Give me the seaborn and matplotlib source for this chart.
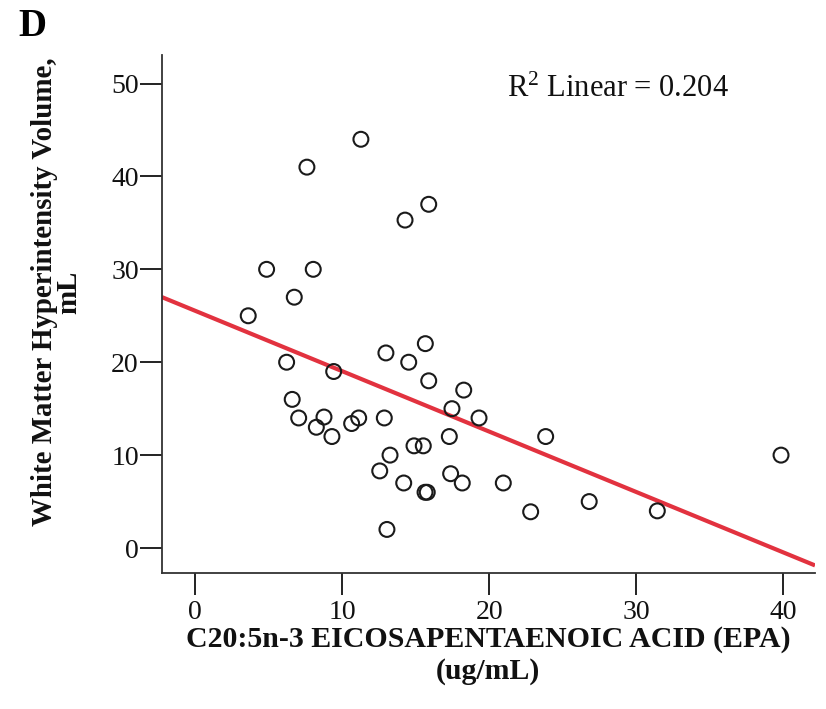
import matplotlib
matplotlib.use("Agg")
import matplotlib.pyplot as plt
import seaborn as sns
import pandas as pd

# Data
epa = [13.05, 7.61, 11.28, 14.28, 15.89, 4.87, 8.04, 6.75, 3.62, 6.23,
       9.43, 12.98, 14.53, 15.66, 15.89, 18.27, 17.47, 19.31, 6.61, 7.05,
       8.77, 8.25, 9.31, 10.65, 11.13, 12.87, 17.29, 14.89, 15.52, 13.26,
       12.56, 14.19, 17.38, 18.17, 15.64, 15.79, 20.96, 22.82, 23.84, 26.80,
       31.43, 39.84]
wmh = [2.0, 41.0, 44.0, 35.3, 37.0, 30.0, 30.0, 27.0, 25.0, 20.0,
       19.0, 21.0, 20.0, 22.0, 18.0, 17.0, 15.0, 14.0, 16.0, 14.0,
       14.1, 13.0, 12.0, 13.4, 14.0, 14.0, 12.0, 11.0, 11.0, 10.0,
       8.3, 7.0, 8.0, 7.0, 6.0, 6.0, 7.0, 3.9, 12.0, 5.0,
       4.0, 10.0]
x_ticks = [0, 10, 20, 30, 40]
y_ticks = [0, 10, 20, 30, 40, 50]
x_label = "C20:5n-3 EICOSAPENTAENOIC ACID (EPA)\n(ug/mL)"
y_label = "White Matter Hyperintensity Volume,\nmL"
annotation = r"R$^{\mathrm{2}}$ Linear = 0.204"
panel = "D"

df = pd.DataFrame({"epa": epa, "wmh": wmh})

sns.set_theme(style="ticks")
plt.rcParams["font.family"] = ["Liberation Serif", "DejaVu Serif"]
plt.rcParams["mathtext.fontset"] = "custom"
plt.rcParams["mathtext.rm"] = "Liberation Serif"
plt.rcParams["mathtext.it"] = "Liberation Serif:italic"
plt.rcParams["mathtext.bf"] = "Liberation Serif:bold"

fig = plt.figure(figsize=(8.26, 7.09), dpi=100)
ax = fig.add_axes([0.1958, 0.1922, 0.7909, 0.7302])

xlim = (-2.26, 42.15)
ylim = (-2.66, 53.07)
ax.set_xlim(xlim)
ax.set_ylim(ylim)

sns.scatterplot(data=df, x="epa", y="wmh", ax=ax, marker="o", s=115,
                facecolors="none", edgecolor="#1a1a1a", linewidth=1.5,
                legend=False, zorder=3)
sns.regplot(data=df, x="epa", y="wmh", ax=ax, scatter=False, ci=None,
            truncate=False, line_kws={"color": "#e2323f", "lw": 3.0,
                                      "solid_capstyle": "butt"})
ax.set_xlim(xlim)
ax.set_ylim(ylim)

ax.set_xticks(x_ticks)
ax.set_yticks(y_ticks)
ax.tick_params(axis="both", direction="out", length=15.5, width=1.4,
               color="#222222", labelsize=20, labelcolor="#111111")
ax.tick_params(axis="x", pad=4)
ax.tick_params(axis="y", pad=1)
for side in ["top", "right"]:
    ax.spines[side].set_visible(False)
for side in ["left", "bottom"]:
    ax.spines[side].set_linewidth(1.3)
    ax.spines[side].set_color("#333333")

ax.set_xlabel(x_label, fontsize=21.5, fontweight="bold", labelpad=1,
              linespacing=1.2, color="#111111")
ax.set_ylabel(y_label, fontsize=20.8, fontweight="bold",
              linespacing=0.88, color="#111111")
ax.yaxis.set_label_coords(-0.121, 0.542)

fig.text(0.748, 0.874, annotation, fontsize=22, ha="center", va="center",
         color="#111111")
fig.text(0.039, 0.963, panel, fontsize=28, fontweight="bold", ha="center",
         va="center", color="#000000")

fig.savefig("out.png", dpi=100, facecolor="white")
